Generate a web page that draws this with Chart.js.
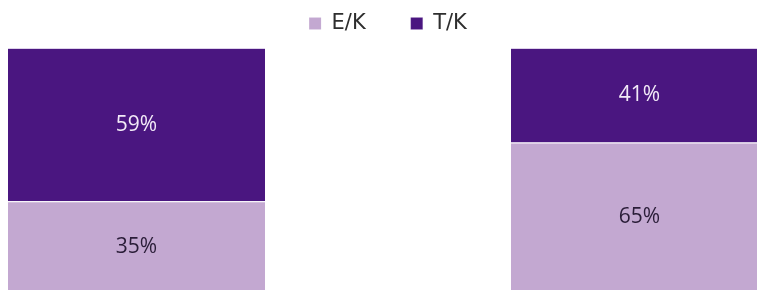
<!DOCTYPE html>
<html>
<head>
<meta charset="utf-8">
<script src="https://cdn.jsdelivr.net/npm/chart.js@4"></script>
<style>
  html, body { margin: 0; padding: 0; background: #ffffff; overflow: hidden; width: 757px; height: 290px; }
  #wrap { position: absolute; left: -115px; top: 0; width: 1006px; height: 292px; }
</style>
</head>
<body>
<div id="wrap"><canvas id="c"></canvas></div>
<script>
const categories = ['A', 'B'];
const seriesNames = ['E/K', 'T/K'];
const ekValues = [35, 65];
const tkValues = [59, 41];

const colors = ['#c3a8d1', '#4a1680'];
const labelColors = ['#2a1d38', '#f2eaf7'];

const totals = categories.map((_, i) => ekValues[i] + tkValues[i]);
const share = (arr) => arr.map((v, i) => v / totals[i] * 100);
const rawSeries = [ekValues, tkValues];

const segmentLabels = {
  id: 'segmentLabels',
  afterDatasetsDraw(chart) {
    const ctx = chart.ctx;
    ctx.save();
    ctx.font = '21px "Open Sans", sans-serif';
    ctx.textAlign = 'center';
    ctx.textBaseline = 'middle';
    chart.data.datasets.forEach((ds, di) => {
      const meta = chart.getDatasetMeta(di);
      meta.data.forEach((el, i) => {
        const y = (el.y + el.base) / 2;
        ctx.fillStyle = labelColors[di];
        ctx.fillText(rawSeries[di][i] + '%', el.x, y);
      });
    });
    ctx.restore();
  }
};

new Chart(document.getElementById('c'), {
  type: 'bar',
  data: {
    labels: categories,
    datasets: [
      { label: seriesNames[0], data: share(ekValues), backgroundColor: colors[0],
        borderColor: 'rgba(255,255,255,0.35)', borderWidth: {top: 1, left: 0, right: 0, bottom: 0}, borderSkipped: false },
      { label: seriesNames[1], data: share(tkValues), backgroundColor: colors[1],
        borderColor: 'rgba(200,180,220,0.6)', borderWidth: {top: 1, left: 0, right: 0, bottom: 0}, borderSkipped: false }
    ]
  },
  options: {
    responsive: true,
    maintainAspectRatio: false,
    animation: false,
    layout: { padding: { top: -32, left: 0, right: 0, bottom: 0 } },
    datasets: { bar: { barPercentage: 0.511, categoryPercentage: 1 } },
    scales: {
      x: {
        stacked: true,
        position: 'top',
        display: true,
        ticks: { display: false },
        grid: { display: false },
        border: { display: false },
        afterFit: (s) => { s.height = 4; }
      },
      y: { stacked: true, display: false, min: 0, max: 100 }
    },
    plugins: {
      legend: {
        position: 'top',
        labels: {
          boxWidth: 12,
          boxHeight: 12,
          padding: 45,
          color: '#2e2e2e',
          font: { family: '"DejaVu Sans", sans-serif', size: 21 }
        }
      },
      tooltip: { enabled: false }
    }
  },
  plugins: [segmentLabels]
});
</script>
</body>
</html>
